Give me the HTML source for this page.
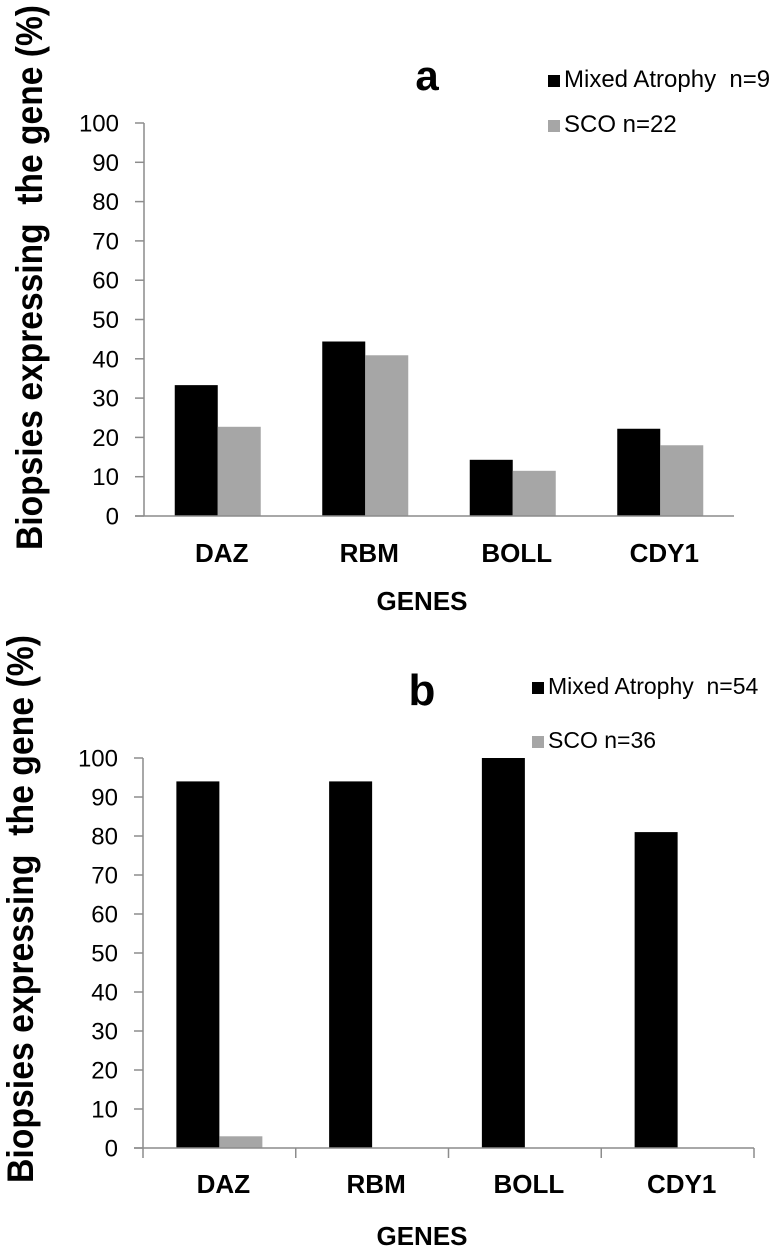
<!DOCTYPE html>
<html><head><meta charset="utf-8"><style>
html,body{margin:0;padding:0;background:#fff;}
svg{display:block;font-family:"Liberation Sans",Arial,sans-serif;}
text{white-space:pre;}
</style></head><body>
<svg id="fig" width="779" height="1253" viewBox="0 0 779 1253"></svg>
<script>
const categories = ["DAZ","RBM","BOLL","CDY1"];
const seriesNames = ["Mixed Atrophy", "SCO"];
const aMixed = [33.3, 44.4, 14.3, 22.2];
const aSCO = [22.7, 40.9, 11.5, 18.0];
const bMixed = [94, 94, 100, 81];
const bSCO = [3, 0, 0, 0];
const yTicks = [0,10,20,30,40,50,60,70,80,90,100];
const aLegend = ["Mixed Atrophy  n=9", "SCO n=22"];
const bLegend = ["Mixed Atrophy  n=54", "SCO n=36"];

const NS = "http://www.w3.org/2000/svg";
const svg = document.getElementById("fig");
function mk(tag, attrs, parent){
  const e = document.createElementNS(NS, tag);
  for (const k in attrs) e.setAttribute(k, attrs[k]);
  (parent||svg).appendChild(e);
  return e;
}
function txt(s, attrs, parent){ const t = mk("text", attrs, parent); t.textContent = s; return t; }

function drawChart(cfg){
  const g = mk("g", {});
  
  
  const y = v => cfg.y0 - (v/100)*(cfg.y0 - cfg.y100);
  const bw = 43;
  const cw = (cfg.x1 - cfg.x0)/categories.length;
  const x = i => cfg.x0 + cw*(i+0.5);
  const ya = mk("line", {x1:cfg.x0, y1:y(100), x2:cfg.x0, y2:cfg.y0, stroke:"#8c8c8c", "stroke-width":1.5}, g);
  
  
  yTicks.forEach(t => {
    const tk = mk("line", {x1:cfg.x0-9, y1:y(t), x2:cfg.x0, y2:y(t), stroke:"#8c8c8c", "stroke-width":1.5}, g);
    
    
    const lb = txt(String(t), {x:cfg.x0-25, y:y(t)+8.5, "text-anchor":"end", "font-size":24, fill:"#000"}, g);
    
    
  });
  categories.forEach((c,i) => {
    const vals = [cfg.s1[i], cfg.s2[i]];
    const cols = ["#000", "#a6a6a6"];
    vals.forEach((v,j) => {
      if (v <= 0) return;
      const r = mk("rect", {x:x(i)-bw+j*bw, y:y(v), width:bw, height:y(0)-y(v), fill:cols[j]}, g);
      
      
    });
    const cl = txt(c, {x:x(i)+4, y:cfg.labelY, "text-anchor":"middle", "font-size":26, "font-weight":"bold", fill:"#000"}, g);
    
    
  });
  const xa = mk("line", {x1:cfg.xa0, y1:cfg.y0, x2:cfg.x1, y2:cfg.y0, stroke:"#8c8c8c", "stroke-width":1.5}, g);
  
  
  if (cfg.catTicks){
    for (let i=0;i<=categories.length;i++){
      const ct = mk("line", {x1:cfg.x0+cw*i, y1:cfg.y0, x2:cfg.x0+cw*i, y2:cfg.y0+10, stroke:"#8c8c8c", "stroke-width":1.5}, g);
      
      
    }
  }
  const xt = txt("GENES", {x:422, y:cfg.xTitleY, "text-anchor":"middle", "font-size":26, "font-weight":"bold"}, g);
  
  
  const yt = txt("Biopsies expressing  the gene (%)", {x:0, y:0, "font-size":37, "font-weight":"bold", textLength:cfg.ytLen, lengthAdjust:"spacingAndGlyphs", transform:"translate("+cfg.ytX+","+cfg.ytBottom+") rotate(-90)"}, g);
  
  
  const pt = txt(cfg.letter, {x:cfg.letterX, y:cfg.letterY, "text-anchor":"middle", "font-size":cfg.letterSize, "font-weight":"bold"}, g);
  
  
  const lcol = ["#000", "#a6a6a6"];
  cfg.legend.forEach((s,j) => {
    const ly = cfg.legY[j];
    const sq = mk("rect", {x:cfg.legX, y:ly-12, width:12, height:12, fill:lcol[j]}, g);
    
    
    const lt = txt(s, {x:cfg.legX+16, y:ly, "font-size":cfg.legSize}, g);
    
    
  });
}

drawChart({id:"chart-a", s1:aMixed, s2:aSCO, x0:144, x1:734, xa0:135, y0:516, y100:123,
  catTicks:false, labelY:562, xTitleY:610, ytX:42, ytBottom:550, ytLen:545,
  letter:"a", letterX:427, letterY:90, letterSize:42,
  legend:aLegend, legX:548, legY:[87,132], legSize:24});
drawChart({id:"chart-b", s1:bMixed, s2:bSCO, x0:143, x1:754, xa0:134, y0:1148, y100:758,
  catTicks:true, labelY:1193, xTitleY:1245, ytX:33, ytBottom:1183, ytLen:548,
  letter:"b", letterX:422, letterY:705, letterSize:44,
  legend:bLegend, legX:532, legY:[694,748], legSize:23});
</script>
</body></html>
